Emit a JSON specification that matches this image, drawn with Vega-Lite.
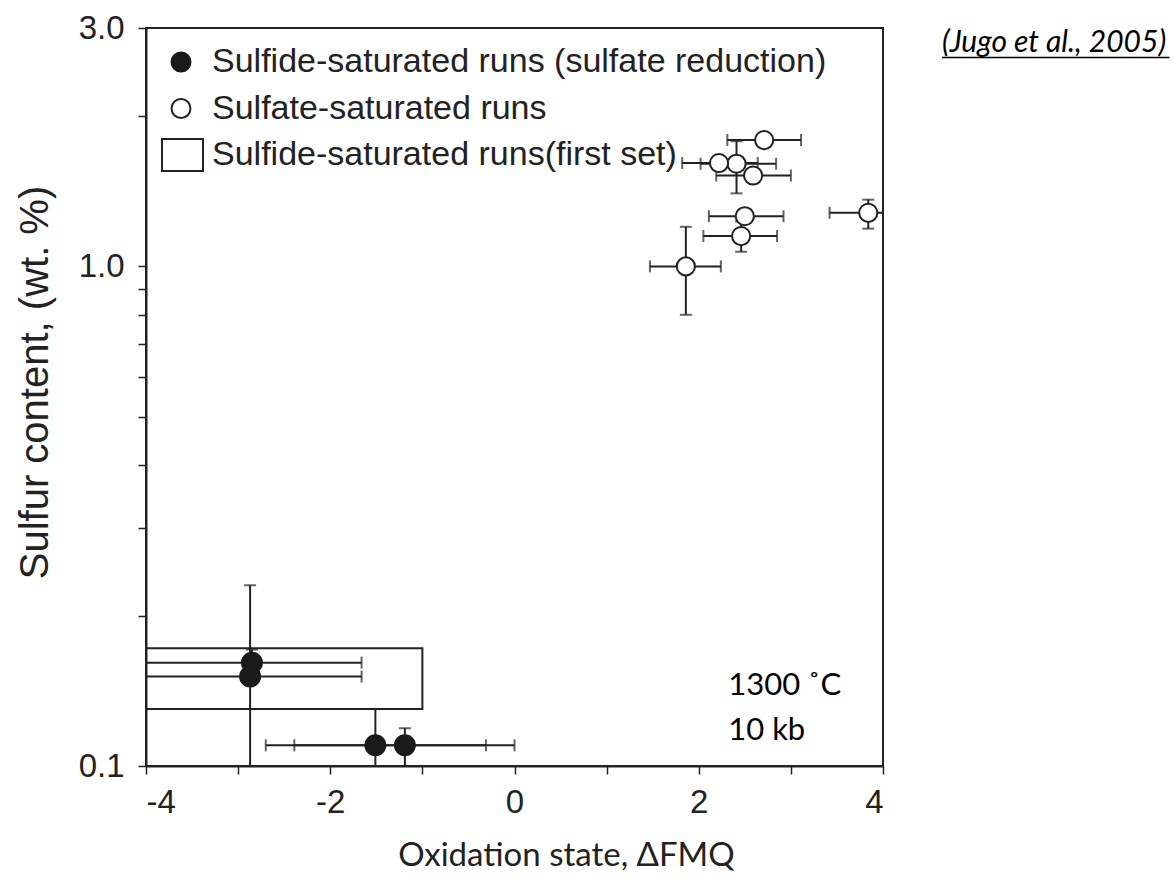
{
  "$schema": "https://vega.github.io/schema/vega-lite/v6.json",
  "autosize": {"type": "none"},
  "width": 737,
  "height": 738,
  "padding": {"left": 146, "top": 28, "right": 292, "bottom": 113},
  "background": "white",
  "config": {
    "view": {"stroke": "#222", "strokeWidth": 2},
    "axis": {
      "grid": false,
      "domainColor": "#222",
      "domainWidth": 2,
      "tickColor": "#222",
      "tickWidth": 1.5,
      "tickSize": 8,
      "labelFont": "Liberation Sans",
      "labelFontSize": 33,
      "labelColor": "#222",
      "titleColor": "#222",
      "titleFontWeight": "normal"
    }
  },
  "datasets": {
    "runs": [
      {"series": "Sulfide-saturated runs (sulfate reduction)", "x": -2.85, "y": 0.161, "xlo": -4.05, "xhi": -1.66, "ylo": 0.152, "yhi": 0.171},
      {"series": "Sulfide-saturated runs (sulfate reduction)", "x": -2.87, "y": 0.151, "xlo": -4.06, "xhi": -1.66, "ylo": 0.085, "yhi": 0.23},
      {"series": "Sulfide-saturated runs (sulfate reduction)", "x": -1.51, "y": 0.110, "xlo": -2.70, "xhi": -0.31, "ylo": 0.09, "yhi": 0.13},
      {"series": "Sulfide-saturated runs (sulfate reduction)", "x": -1.19, "y": 0.110, "xlo": -2.39, "xhi": 0.0, "ylo": 0.0998, "yhi": 0.119},
      {"series": "Sulfate-saturated runs", "x": 2.71, "y": 1.79, "xlo": 2.31, "xhi": 3.11, "ylo": null, "yhi": null},
      {"series": "Sulfate-saturated runs", "x": 2.41, "y": 1.605, "xlo": 2.02, "xhi": 2.84, "ylo": 1.40, "yhi": 1.78},
      {"series": "Sulfate-saturated runs", "x": 2.22, "y": 1.61, "xlo": 1.82, "xhi": 2.64, "ylo": null, "yhi": null},
      {"series": "Sulfate-saturated runs", "x": 2.59, "y": 1.52, "xlo": 2.19, "xhi": 3.0, "ylo": null, "yhi": null},
      {"series": "Sulfate-saturated runs", "x": 2.50, "y": 1.26, "xlo": 2.11, "xhi": 2.92, "ylo": null, "yhi": null},
      {"series": "Sulfate-saturated runs", "x": 2.46, "y": 1.15, "xlo": 2.05, "xhi": 2.85, "ylo": 1.07, "yhi": 1.23},
      {"series": "Sulfate-saturated runs", "x": 1.86, "y": 1.0, "xlo": 1.47, "xhi": 2.24, "ylo": 0.80, "yhi": 1.20},
      {"series": "Sulfate-saturated runs", "x": 3.84, "y": 1.28, "xlo": 3.42, "xhi": 4.26, "ylo": 1.19, "yhi": 1.36}
    ],
    "firstset": [
      {"series": "Sulfide-saturated runs(first set)", "xlo": -4.0, "xhi": -1.0, "ylo": 0.13, "yhi": 0.172}
    ]
  },
  "layer": [
    {
      "data": {"name": "firstset"},
      "mark": {"type": "rect", "fill": null, "fillOpacity": 0, "stroke": "#222", "strokeWidth": 2, "clip": true},
      "encoding": {
        "x": {"field": "xlo", "type": "quantitative", "scale": {"domain": [-4, 4], "nice": false, "zero": false},
          "axis": {"values": [-4, -3, -2, -1, 0, 1, 2, 3, 4], "labelExpr": "datum.value % 2 == 0 ? toString(datum.value) : ''", "labelPadding": 12, "title": "Oxidation state, ΔFMQ", "titleFont": "Lato", "titleFontSize": 33, "titleX": 420, "titleY": 99, "titleBaseline": "alphabetic", "titleAlign": "center"}},
        "x2": {"field": "xhi"},
        "y": {"field": "ylo", "type": "quantitative", "scale": {"type": "log", "domain": [0.1, 3], "nice": false},
          "axis": {"values": [0.1, 0.2, 0.3, 0.4, 0.5, 0.6, 0.7, 0.8, 0.9, 1, 2, 3], "labelExpr": "datum.value == 0.1 || datum.value == 1 || datum.value == 3 ? format(datum.value, '.1f') : ''", "labelPadding": 14, "title": "Sulfur content, (wt. %)", "titleFont": "Liberation Sans", "titleFontSize": 40, "titleX": -111, "titleY": 354, "titleAngle": -90, "titleAlign": "center", "titleBaseline": "middle"}},
        "y2": {"field": "yhi"}
      }
    },
    {
      "data": {"name": "runs"},
      "transform": [{"filter": "datum.xlo != null"}],
      "mark": {"type": "rule", "stroke": "#222", "strokeWidth": 2, "clip": true},
      "encoding": {
        "x": {"field": "xlo", "type": "quantitative"},
        "x2": {"field": "xhi"},
        "y": {"field": "y", "type": "quantitative"}
      }
    },
    {
      "data": {"name": "runs"},
      "transform": [{"filter": "datum.ylo != null"}],
      "mark": {"type": "rule", "stroke": "#222", "strokeWidth": 2, "clip": true},
      "encoding": {
        "x": {"field": "x", "type": "quantitative"},
        "y": {"field": "ylo", "type": "quantitative"},
        "y2": {"field": "yhi"}
      }
    },
    {
      "data": {"name": "runs"},
      "transform": [{"filter": "datum.xlo != null"}],
      "mark": {"type": "tick", "orient": "vertical", "color": "#222", "size": 12, "thickness": 2, "clip": true},
      "encoding": {
        "x": {"field": "xlo", "type": "quantitative"},
        "y": {"field": "y", "type": "quantitative"}
      }
    },
    {
      "data": {"name": "runs"},
      "transform": [{"filter": "datum.xhi != null"}],
      "mark": {"type": "tick", "orient": "vertical", "color": "#222", "size": 12, "thickness": 2, "clip": true},
      "encoding": {
        "x": {"field": "xhi", "type": "quantitative"},
        "y": {"field": "y", "type": "quantitative"}
      }
    },
    {
      "data": {"name": "runs"},
      "transform": [{"filter": "datum.ylo != null"}],
      "mark": {"type": "tick", "orient": "horizontal", "color": "#222", "size": 12, "thickness": 2, "clip": true},
      "encoding": {
        "x": {"field": "x", "type": "quantitative"},
        "y": {"field": "ylo", "type": "quantitative"}
      }
    },
    {
      "data": {"name": "runs"},
      "transform": [{"filter": "datum.yhi != null"}],
      "mark": {"type": "tick", "orient": "horizontal", "color": "#222", "size": 12, "thickness": 2, "clip": true},
      "encoding": {
        "x": {"field": "x", "type": "quantitative"},
        "y": {"field": "yhi", "type": "quantitative"}
      }
    },
    {
      "data": {"name": "runs"},
      "transform": [{"filter": "datum.series == 'Sulfide-saturated runs (sulfate reduction)'"}],
      "mark": {"type": "point", "filled": true, "strokeWidth": 2, "opacity": 1, "size": 400},
      "encoding": {
        "x": {"field": "x", "type": "quantitative"},
        "y": {"field": "y", "type": "quantitative"},
        "shape": {"field": "series", "type": "nominal", "title": null,
          "scale": {"domain": ["Sulfide-saturated runs (sulfate reduction)", "Sulfate-saturated runs", "Sulfide-saturated runs(first set)"], "range": ["circle", "circle", "M-2.0,-1.69H2.32V1.69H-2.0Z"]},
          "legend": {"orient": "none", "legendX": 12, "legendY": 17, "padding": 0, "labelFont": "Liberation Sans", "labelFontSize": 34, "labelColor": "#222", "labelLimit": 1000, "labelOffset": 14, "rowPadding": 12.5, "clipHeight": 34, "symbolSize": 360, "symbolStrokeWidth": 2, "symbolOffset": 6,
            "encode": {"symbols": {"update": {"size": {"signal": "datum.value === 'Sulfate-saturated runs' ? 200 : 360"}}}}}},
        "fill": {"field": "series", "type": "nominal", "title": null,
          "scale": {"domain": ["Sulfide-saturated runs (sulfate reduction)", "Sulfate-saturated runs", "Sulfide-saturated runs(first set)"], "range": ["#1a1a1a", "white", "white"]}},
        "stroke": {"field": "series", "type": "nominal", "title": null,
          "scale": {"domain": ["Sulfide-saturated runs (sulfate reduction)", "Sulfate-saturated runs", "Sulfide-saturated runs(first set)"], "range": ["#1a1a1a", "#222", "#222"]}}
      }
    },
    {
      "data": {"name": "runs"},
      "transform": [{"filter": "datum.series == 'Sulfate-saturated runs'"}],
      "mark": {"type": "point", "filled": true, "strokeWidth": 2, "opacity": 1, "size": 330},
      "encoding": {
        "x": {"field": "x", "type": "quantitative"},
        "y": {"field": "y", "type": "quantitative"},
        "shape": {"field": "series", "type": "nominal", "title": null},
        "fill": {"field": "series", "type": "nominal", "title": null},
        "stroke": {"field": "series", "type": "nominal", "title": null}
      }
    },
    {
      "data": {"values": [{}]},
      "mark": {"type": "text", "font": "Lato", "fontSize": 31, "color": "#000", "align": "left", "baseline": "alphabetic"},
      "encoding": {
        "x": {"datum": 2.32, "type": "quantitative"},
        "y": {"datum": 0.1387, "type": "quantitative"},
        "text": {"value": "1300 ˚C"}
      }
    },
    {
      "data": {"values": [{}]},
      "mark": {"type": "text", "font": "Lato", "fontSize": 31, "color": "#000", "align": "left", "baseline": "alphabetic"},
      "encoding": {
        "x": {"datum": 2.32, "type": "quantitative"},
        "y": {"datum": 0.1127, "type": "quantitative"},
        "text": {"value": "10 kb"}
      }
    },
    {
      "data": {"values": [{}]},
      "mark": {"type": "text", "font": "Lato", "fontSize": 30, "fontStyle": "italic", "color": "#000", "align": "left", "baseline": "alphabetic"},
      "encoding": {
        "x": {"datum": 4.64, "type": "quantitative"},
        "y": {"datum": 2.68, "type": "quantitative"},
        "text": {"value": "(Jugo et al., 2005)"}
      }
    },
    {
      "data": {"values": [{}]},
      "mark": {"type": "rule", "color": "#000", "strokeWidth": 1.5},
      "encoding": {
        "x": {"datum": 4.64, "type": "quantitative"},
        "x2": {"datum": 7.11},
        "y": {"datum": 2.62, "type": "quantitative"}
      }
    }
  ]
}
